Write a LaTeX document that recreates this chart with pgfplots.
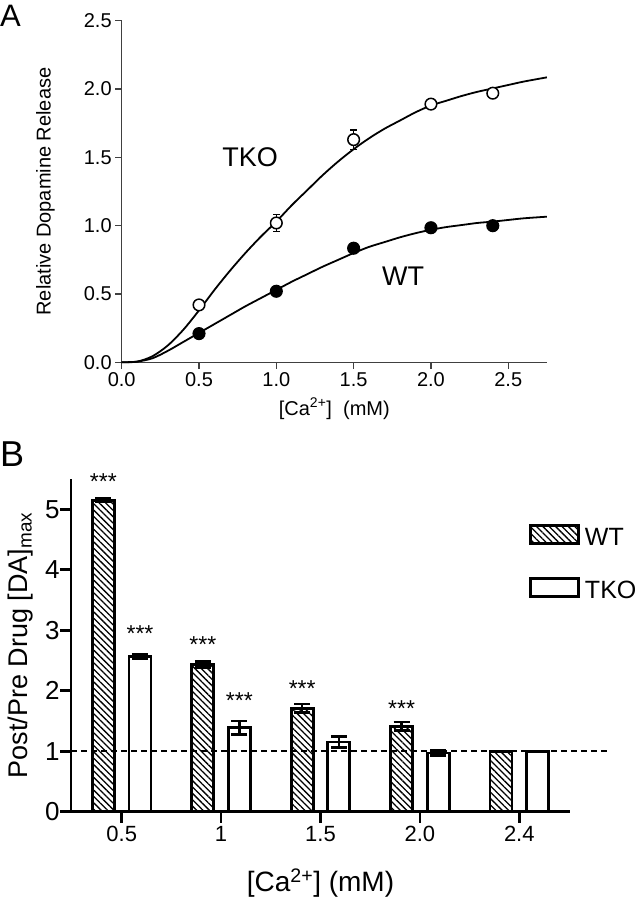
\documentclass[border=0pt]{standalone}
\usepackage{fontspec}
\setmainfont{Liberation Sans}
\usepackage{pgfplots}
\pgfplotsset{compat=1.18}
\usetikzlibrary{patterns.meta}

\newcommand{\fs}[1]{\fontsize{#1pt}{#1pt}\selectfont}

\begin{document}
\begin{tikzpicture}[x=1pt,y=1pt]
\useasboundingbox (0,0) rectangle (636,900);

\node[anchor=base west, inner sep=0pt, font=\fs{31}] at (0,873) {A};
\node[anchor=base west, inner sep=0pt, font=\fs{36}] at (0,433.3) {B};

% ---------- panel A ----------
\begin{axis}[
    at={(121.7pt,537.7pt)}, anchor=south west,
    scale only axis, width=425.2pt, height=341.5pt,
    xmin=0, xmax=2.75, ymin=0, ymax=2.5,
    axis x line*=bottom, axis y line*=left,
    axis line style={line width=1.4pt, color=black!75},
    tick style={line width=1.4pt, color=black!75},
    tick align=outside, major tick length=6.5pt,
    xtick={0,0.5,1,1.5,2,2.5}, ytick={0,0.5,1,1.5,2,2.5},
    /pgf/number format/fixed, /pgf/number format/fixed zerofill,
    /pgf/number format/precision=1, /pgf/number format/assume math mode=true,
    ticklabel style={font=\fs{20}},
    xlabel={[Ca\textsuperscript{2+}]\ \ (mM)},
    ylabel={Relative Dopamine Release},
    label style={font=\fs{20}},
    xlabel style={at={(axis description cs:0.5,-0.1552)}, anchor=base},
    ylabel style={at={(axis description cs:-0.167,0.5)}, anchor=base},
    clip=false,
]
% fitted curves
\addplot[black, line width=1.8pt, smooth] coordinates {
  (0,0) (0.1,0.005) (0.2,0.045) (0.3,0.125) (0.4,0.24) (0.5,0.38)
  (0.6,0.53) (0.7,0.67) (0.8,0.80) (0.9,0.92) (1.0,1.03) (1.1,1.15)
  (1.2,1.26) (1.3,1.37) (1.4,1.47) (1.5,1.56) (1.6,1.64) (1.7,1.71)
  (1.8,1.77) (1.9,1.83) (2.0,1.88) (2.1,1.915) (2.2,1.95) (2.3,1.98)
  (2.4,2.005) (2.5,2.03) (2.6,2.055) (2.75,2.086)
};
\addplot[black, line width=1.8pt, smooth] coordinates {
  (0,0) (0.1,0.005) (0.2,0.03) (0.3,0.085) (0.4,0.15) (0.5,0.215)
  (0.6,0.28) (0.7,0.345) (0.8,0.41) (0.9,0.47) (1.0,0.53) (1.1,0.59)
  (1.2,0.645) (1.3,0.70) (1.4,0.75) (1.5,0.80) (1.6,0.845) (1.7,0.88)
  (1.8,0.915) (1.9,0.945) (2.0,0.97) (2.1,0.99) (2.2,1.005) (2.3,1.02)
  (2.4,1.03) (2.5,1.042) (2.6,1.054) (2.75,1.066)
};
% TKO
\addplot[only marks, mark=*, mark size=5.8pt,
    mark options={fill=white, draw=black, line width=1.5pt},
    error bars/.cd, y dir=both, y explicit,
    error bar style={line width=1.3pt, black},
    error mark options={rotate=90, line width=1.3pt, mark size=3.5pt}]
  coordinates {
  (0.5,0.42) +- (0,0.03)
  (1.0,1.02) +- (0,0.06)
  (1.5,1.63) +- (0,0.07)
  (2.0,1.89) +- (0,0.02)
  (2.4,1.97) +- (0,0.03)
};
% WT
\addplot[only marks, mark=*, mark size=5.8pt,
    mark options={fill=black, draw=black, line width=1.5pt}]
  coordinates {(0.5,0.21) (1.0,0.52) (1.5,0.835) (2.0,0.985) (2.4,1.0)};

\node[font=\fs{27}] at (axis cs:0.83,1.505) {TKO};
\node[font=\fs{27}] at (axis cs:1.82,0.627) {WT};
\end{axis}

% ---------- panel B ----------
% categories 0.5, 1, 1.5, 2.0, 2.4 sit at 0..4; WT bars at -0.184, TKO at +0.184
\begin{axis}[
    at={(71pt,88.3pt)}, anchor=south west,
    scale only axis, width=499pt, height=332.7pt,
    xmin=-0.51, xmax=4.51, ymin=0, ymax=5.5,
    axis x line*=bottom, axis y line*=left,
    axis line style={line width=2.7pt, black},
    tick style={line width=2.7pt, black},
    tick align=outside, major tick length=11pt,
    xtick={0,1,2,3,4}, xticklabels={0.5,1,1.5,2.0,2.4},
    ytick={0,1,2,3,4,5},
    /pgf/number format/assume math mode=true,
    xticklabel style={font=\fs{22}},
    yticklabel style={font=\fs{26}, xshift=3pt},
    xlabel={[Ca\textsuperscript{2+}] (mM)},
    ylabel={Post/Pre Drug [DA]\textsubscript{max}},
    xlabel style={font=\fs{28}, at={(axis description cs:0.5,-0.2405)}, anchor=base},
    ylabel style={font=\fs{27}, at={(axis description cs:-0.0862,0.5)}, anchor=base},
    legend style={at={(0.912,0.8717)}, anchor=north west, draw=none, fill=none,
        nodes={inner sep=0pt, font=\fs{25}}, row sep=30pt,
        /tikz/every odd column/.append style={column sep=5pt},
        /tikz/every even column/.append style={yshift=6pt}},
    legend cell align=left,
    clip=false,
]
\addplot[ybar, bar width=22pt, bar shift=0pt, draw=black, line width=2.7pt,
    pattern={Lines[angle=-45, distance=4.5pt, line width=1.3pt]},
    legend image code/.code={\draw[line width=2.7pt,
        pattern={Lines[angle=-45, distance=4.5pt, line width=1.3pt]}]
        (0pt,0.2pt) rectangle (48pt,18.4pt);},
    error bars/.cd, y dir=both, y explicit,
    error bar style={line width=2.5pt, black, solid},
    error mark options={rotate=90, line width=2.5pt, mark size=8pt}]
  coordinates {
  (-0.184,5.15) +- (0,0.03)
  (0.816,2.43) +- (0,0.05)
  (1.816,1.71) +- (0,0.07)
  (2.816,1.41) +- (0,0.07)
  (3.816,1.00) +- (0,0)
};
\addlegendentry{WT}
\addplot[ybar, bar width=22pt, bar shift=0pt, draw=black, line width=2.7pt,
    fill=white,
    legend image code/.code={\draw[line width=2.7pt, fill=white]
        (0pt,0.2pt) rectangle (48pt,18.4pt);},
    error bars/.cd, y dir=both, y explicit,
    error bar style={line width=2.5pt, black, solid},
    error mark options={rotate=90, line width=2.5pt, mark size=8pt}]
  coordinates {
  (0.184,2.57) +- (0,0.04)
  (1.184,1.39) +- (0,0.11)
  (2.184,1.15) +- (0,0.09)
  (3.184,0.97) +- (0,0.04)
  (4.184,1.00) +- (0,0)
};
\addlegendentry{TKO}
% reference line at 1
\addplot[forget plot, black, line width=2pt, dash pattern=on 6pt off 4pt]
  coordinates {(-0.51,1) (4.89,1)};

\node[font=\fs{23}, anchor=base] at (axis cs:-0.184,5.32) {***};
\node[font=\fs{23}, anchor=base] at (axis cs:0.184,2.82) {***};
\node[font=\fs{23}, anchor=base] at (axis cs:0.816,2.64) {***};
\node[font=\fs{23}, anchor=base] at (axis cs:1.184,1.70) {***};
\node[font=\fs{23}, anchor=base] at (axis cs:1.816,1.91) {***};
\node[font=\fs{23}, anchor=base] at (axis cs:2.816,1.57) {***};
\end{axis}
\end{tikzpicture}
\end{document}
